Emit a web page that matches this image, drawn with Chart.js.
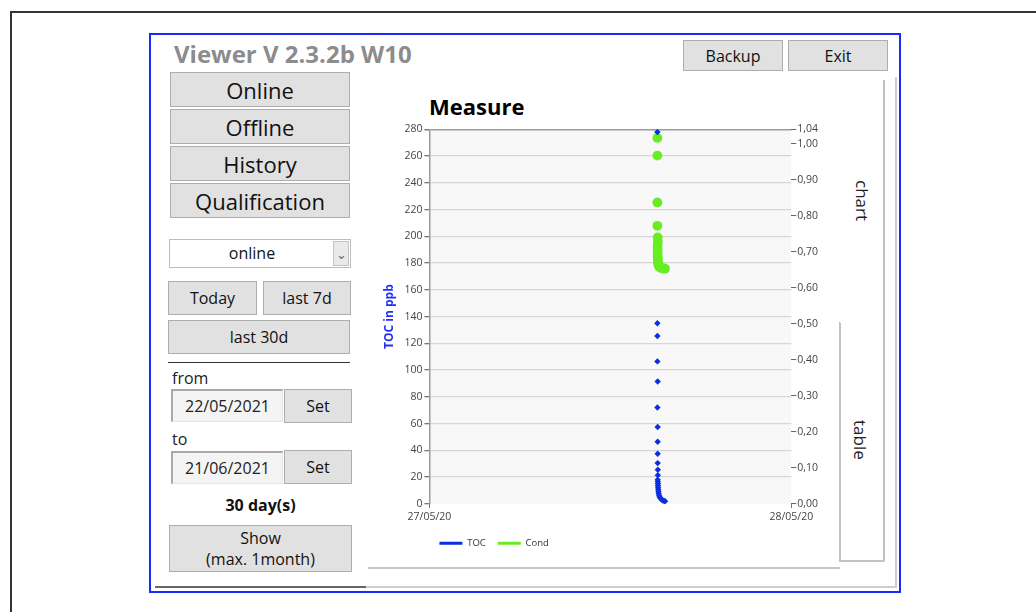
<!DOCTYPE html>
<html>
<head>
<meta charset="utf-8">
<title>Viewer - Measure</title>
<script src="https://cdn.jsdelivr.net/npm/chart.js@4.4.1/dist/chart.umd.min.js"></script>
<style>
    html, body { margin: 0; padding: 0; }
    body { width: 1036px; height: 612px; overflow: hidden; background: #fff; position: relative; font-family: "Open Sans", "Noto Sans", sans-serif; color: #111; }
    .abs { position: absolute; box-sizing: border-box; }
    .outer { left: 10px; top: 11px; width: 1100px; height: 700px; border: 2px solid #333; }
    .frame { left: 149px; top: 33px; width: 752px; height: 560px; border: 2px solid #1a2bff; }
    .app-title { left: 174px; top: 37px; font-size: 24px; font-weight: 700; color: #8c8c8c; white-space: nowrap; }
    .btn { background: #e1e1e1; border: 1px solid #adadad; display: flex; align-items: center; justify-content: center; text-align: center; color: #111; }
    .big { font-size: 22px; }
    .mid { font-size: 16px; }
    .label { font-size: 16px; color: #222; }
    .combo { left: 169px; top: 239px; width: 182px; height: 29px; background: #fff; border: 1px solid #bdbdbd; }
    .combo span { position: absolute; left: 0; width: 164px; top: 0; line-height: 27px; text-align: center; font-size: 16px; }
    .combo-arrow { right: 1px; top: 1px; width: 16px; height: 25px; background: #e9e9e9; border: 1px solid #c3c3c3; font-size: 13px; color: #666; display: flex; align-items: center; justify-content: center; }
    .datebox { background: #f4f4f4; border-top: 2px solid #a9a9a9; border-left: 2px solid #a9a9a9; border-right: 1px solid #e6e6e6; border-bottom: 1px solid #e6e6e6; display: flex; align-items: center; justify-content: center; font-size: 16px; color: #222; }
    .panel { left: 368px; top: 80px; width: 472px; height: 489px; background: #fff; border-bottom: 2px solid #c6c6c6; }
    .tab-chart { left: 840px; top: 80px; width: 45px; height: 243px; background: #fff; border-right: 2px solid #c2c2c2; }
    .tab-table { left: 839px; top: 322px; width: 46px; height: 240px; background: #fff; border-top: 1px solid #bdbdbd; border-right: 2px solid #c2c2c2; border-bottom: 2px solid #c2c2c2; border-left: 2px solid #c2c2c2; border-bottom-right-radius: 2px; }
    .tab-text { writing-mode: vertical-rl; font-size: 17px; color: #222; }
    .measure { left: 429px; top: 95px; font-size: 22px; font-weight: 700; color: #000; line-height: 22px; }
    #chartBox { position: absolute; left: 380px; top: 121px; width: 443px; height: 437px; }
</style>
</head>
<body>
<div class="abs outer"></div>
<div class="abs frame"></div>

<div class="abs app-title">Viewer V 2.3.2b W10</div>

<div class="abs btn big" style="left:170px;top:72px;width:180px;height:35px;">Online</div>
<div class="abs btn big" style="left:170px;top:109px;width:180px;height:35px;">Offline</div>
<div class="abs btn big" style="left:170px;top:146px;width:180px;height:35px;">History</div>
<div class="abs btn big" style="left:170px;top:183px;width:180px;height:35px;">Qualification</div>

<div class="abs combo"><span>online</span><div class="abs combo-arrow">&#8964;</div></div>

<div class="abs btn mid" style="left:168px;top:281px;width:89px;height:34px;">Today</div>
<div class="abs btn mid" style="left:263px;top:281px;width:88px;height:34px;">last 7d</div>
<div class="abs btn mid" style="left:168px;top:320px;width:182px;height:34px;">last 30d</div>
<div class="abs" style="left:168px;top:362px;width:182px;height:1px;background:#333;"></div>

<div class="abs label" style="left:172px;top:367px;">from</div>
<div class="abs datebox" style="left:171px;top:389px;width:112px;height:33px;">22/05/2021</div>
<div class="abs btn mid" style="left:284px;top:389px;width:68px;height:34px;">Set</div>
<div class="abs label" style="left:172px;top:428px;">to</div>
<div class="abs datebox" style="left:171px;top:451px;width:112px;height:33px;">21/06/2021</div>
<div class="abs btn mid" style="left:284px;top:450px;width:68px;height:34px;">Set</div>
<div class="abs" style="left:169px;top:494px;width:183px;text-align:center;font-size:16px;font-weight:700;color:#111;">30 day(s)</div>
<div class="abs btn mid" style="left:169px;top:525px;width:183px;height:47px;line-height:21px;">Show<br>(max. 1month)</div>
<div class="abs" style="left:155px;top:586px;width:211px;height:2px;background:#666;"></div>

<div class="abs btn mid" style="left:683px;top:40px;width:100px;height:31px;">Backup</div>
<div class="abs btn mid" style="left:788px;top:40px;width:100px;height:31px;">Exit</div>

<!-- tab control -->
<div class="abs" style="left:366px;top:586px;width:531px;height:2px;background:#cdcdcd;"></div>
<div class="abs" style="left:895px;top:77px;width:2px;height:511px;background:#cdcdcd;"></div>
<div class="abs panel"></div>
<div class="abs tab-table"></div>
<div class="abs tab-chart"></div>
<div class="abs tab-text" style="left:851px;top:180px;">chart</div>
<div class="abs tab-text" style="left:849px;top:420px;">table</div>

<div class="abs measure">Measure</div>
<div id="chartBox"><canvas id="measureChart"></canvas></div>

<script>
// --- data ---
// x axis = hours since 27/05/20 00:00
const xTickValues = [0, 24];
const xTickLabels = ['27/05/20', '28/05/20'];

const tocHours = [15.12, 15.12, 15.12, 15.12, 15.14, 15.12, 15.14, 15.14, 15.14, 15.14, 15.15, 15.15, 15.14, 15.15, 15.16, 15.16, 15.17, 15.18, 15.19, 15.21, 15.24, 15.28, 15.34, 15.41, 15.48, 15.56, 15.63];
const tocValues = [278, 135, 125.5, 106.5, 91.5, 72, 57.5, 46.5, 37.5, 30.5, 25.5, 21.5, 18, 16.5, 15, 13.5, 12, 10.5, 9, 7.5, 6, 5, 4, 3.2, 2.6, 2.2, 2];

const condHours = [15.12, 15.12, 15.12, 15.12, 15.14, 15.15, 15.13, 15.14, 15.13, 15.14, 15.15, 15.16, 15.18, 15.22, 15.29, 15.37, 15.45, 15.54, 15.62];
const condValues = [1.016, 0.967, 0.837, 0.772, 0.740, 0.728, 0.716, 0.705, 0.695, 0.686, 0.678, 0.671, 0.665, 0.660, 0.657, 0.655, 0.654, 0.654, 0.653];

const condTicks = [0, 0.1, 0.2, 0.3, 0.4, 0.5, 0.6, 0.7, 0.8, 0.9, 1.0, 1.04];

const TOC_COLOR = '#0b2ee0';
const COND_COLOR = '#66ee22';
const TICK_FONT = { family: '"Open Sans", sans-serif', size: 10.5 };

// plot background
const plotBackground = {
    id: 'plotBackground',
    beforeDraw(chart) {
        const a = chart.chartArea;
        const ctx = chart.ctx;
        ctx.save();
        ctx.fillStyle = '#f8f8f8';
        ctx.fillRect(a.left, a.top, a.right - a.left, a.bottom - a.top);
        ctx.restore();
    }
};

// legend sits under the plot, starting at its left edge
const legendAtPlotLeft = {
    id: 'legendAtPlotLeft',
    afterLayout(chart) {
        const lg = chart.legend;
        if (!lg) return;
        const shift = chart.chartArea.left + 10 - lg.left - lg.options.labels.padding;
        lg.left += shift;
        lg.right += shift;
    }
};

function toPoints(xs, ys) {
    return xs.map((x, i) => ({ x: x, y: ys[i] }));
}

const chart = new Chart(document.getElementById('measureChart'), {
    type: 'scatter',
    data: {
        datasets: [{
            label: 'TOC',
            data: toPoints(tocHours, tocValues),
            yAxisID: 'y',
            pointStyle: 'rectRot',
            pointRadius: 3.2,
            backgroundColor: TOC_COLOR,
            borderColor: TOC_COLOR,
            borderWidth: 0
        }, {
            label: 'Cond',
            data: toPoints(condHours, condValues),
            yAxisID: 'y2',
            pointStyle: 'circle',
            pointRadius: 4.9,
            backgroundColor: COND_COLOR,
            borderColor: COND_COLOR,
            borderWidth: 0
        }]
    },
    options: {
        responsive: true,
        maintainAspectRatio: false,
        animation: false,
        layout: { padding: { top: 0, right: 4, bottom: 0, left: 0 } },
        plugins: {
            title: { display: false },
            tooltip: { enabled: false },
            legend: {
                position: 'bottom',
                align: 'start',
                labels: {
                    boxWidth: 23,
                    boxHeight: 3,
                    padding: 12,
                    color: '#333',
                    font: { family: '"Open Sans", sans-serif', size: 9.5 },
                    generateLabels: (c) => c.data.datasets.map((ds, i) => ({
                        text: ds.label,
                        fillStyle: ds.backgroundColor,
                        strokeStyle: ds.backgroundColor,
                        lineWidth: 0,
                        hidden: false,
                        datasetIndex: i,
                        fontColor: '#333'
                    }))
                }
            }
        },
        scales: {
            x: {
                type: 'linear',
                min: xTickValues[0],
                max: xTickValues[xTickValues.length - 1],
                afterBuildTicks: (s) => { s.ticks = xTickValues.map(v => ({ value: v })); },
                ticks: {
                    autoSkip: false,
                    maxRotation: 0,
                    padding: 3,
                    color: '#444',
                    font: TICK_FONT,
                    callback: (v, i) => xTickLabels[i]
                },
                grid: { drawOnChartArea: false, drawTicks: true, tickLength: 4, tickColor: '#777' },
                border: { display: false }
            },
            y: {
                position: 'left',
                min: 0,
                max: 280,
                ticks: { stepSize: 20, padding: 2, color: '#444', font: TICK_FONT },
                grid: {
                    color: (ctx) => ctx.tick.value === 280 ? '#9c9c9c' : (ctx.tick.value === 0 ? 'rgba(0,0,0,0)' : '#d6d6d6'),
                    lineWidth: (ctx) => ctx.tick.value === 280 ? 1.5 : 1.3,
                    tickLength: 5,
                    tickColor: '#777'
                },
                border: { display: true, color: '#9c9c9c', width: 1.5 },
                title: {
                    display: true,
                    text: 'TOC in ppb',
                    color: '#1f2fff',
                    font: { family: '"Open Sans", sans-serif', size: 12, weight: 'bold' },
                    padding: { top: 2, bottom: 6 }
                }
            },
            y2: {
                position: 'right',
                min: 0,
                max: 1.04,
                afterBuildTicks: (s) => { s.ticks = condTicks.map(v => ({ value: v })); },
                ticks: {
                    autoSkip: false,
                    padding: 1,
                    color: '#444',
                    font: TICK_FONT,
                    callback: (v) => Number(v).toFixed(2).replace('.', ',')
                },
                grid: { drawOnChartArea: false, drawTicks: true, tickLength: 5, tickColor: '#666' },
                border: { display: false }
            }
        }
    },
    plugins: [plotBackground, legendAtPlotLeft]
});
</script>
</body>
</html>
